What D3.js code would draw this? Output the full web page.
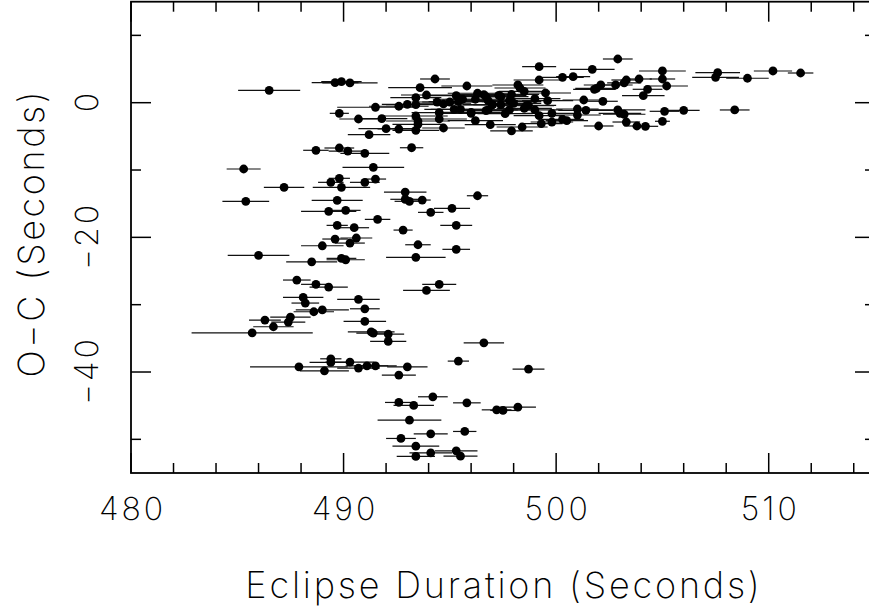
<!DOCTYPE html>
<html>
<head>
<meta charset="utf-8">
<script src="https://cdn.jsdelivr.net/npm/d3@7"></script>
<style>
html,body{margin:0;padding:0;background:#fff;}
svg{display:block;}
text{font-family:Inter,"DejaVu Sans",sans-serif;font-weight:200;fill:#000;}
</style>
</head>
<body>
<svg id="chart" width="869" height="610"></svg>
<script>
// Eclipse duration (s)
const duration = [
486.5,489.6,489.9,490.3,494.3,495.8,493.6,493.9,493.4,495.3,
491.5,492.6,493.0,493.4,494.4,494.7,495.0,489.8,490.7,491.8,
493.4,493.5,494.5,494.5,493.5,492.0,492.6,493.4,494.7,491.2,
496.2,496.9,496.0,488.7,489.8,490.2,491.0,493.2,485.3,491.4,
489.8,489.4,491.0,491.5,489.9,487.2,485.4,489.7,492.9,492.9,
493.1,493.7,496.3,489.3,490.1,495.1,494.1,491.6,489.7,490.5,
495.3,492.8,489.6,490.6,490.3,489.0,493.5,495.3,486.0,488.5,
489.9,490.1,493.4,487.8,488.7,489.3,494.5,493.9,488.1,488.2,
490.7,491.0,489.0,488.6,487.5,487.4,486.3,486.7,491.0,485.7,
491.3,491.4,492.1,492.1,496.6,489.4,489.4,490.3,487.9,489.1,
490.7,491.1,491.5,493.0,492.6,495.4,498.7,494.2,492.6,493.3,
495.8,497.2,497.5,498.2,493.1,495.7,494.1,492.7,493.4,494.1,
495.3,493.4,495.5,502.9,499.2,501.7,505.0,499.2,500.3,500.8,
505.0,503.9,503.3,503.2,502.8,502.1,501.9,501.8,504.3,505.2,
504.1,507.6,507.5,509.0,510.2,511.5,508.4,506.0,505.1,502.9,
503.0,503.2,503.3,505.0,503.8,504.2,502.0,501.3,502.2,501.0,
501.4,501.0,500.5,500.3,499.8,499.3,499.8,499.6,499.5,499.0,
498.4,497.9,497.6,497.4,498.2,498.3,498.5,497.9,497.9,498.5,
498.7,499.0,499.2,496.8,496.7,497.0,496.3,496.6,497.3,495.4,
495.6,496.2,496.8,497.0,497.4,497.8,498.0,498.6,495.2,495.5,
496.0,496.7,497.8
];
// O-C (s)
const oc = [
1.84,2.97,3.12,2.93,3.52,2.48,2.23,1.14,0.74,1.04,
-0.68,-0.53,-0.24,-0.30,0.10,-0.19,0.10,-1.58,-2.42,-2.38,
-1.98,-2.72,-1.49,-2.42,-3.21,-3.86,-3.91,-4.10,-3.76,-4.75,
-2.67,-3.27,-1.58,-7.07,-6.73,-7.18,-7.52,-6.69,-9.85,-9.60,
-11.23,-11.83,-11.83,-11.34,-12.57,-12.57,-14.65,-14.50,-13.27,-14.35,
-14.65,-14.46,-13.82,-16.14,-15.99,-15.69,-16.29,-17.33,-18.22,-18.57,
-18.22,-18.92,-20.25,-20.10,-20.85,-21.25,-21.10,-21.78,-22.67,-23.63,
-23.12,-23.33,-22.97,-26.34,-26.98,-27.38,-26.98,-27.88,-28.92,-29.76,
-29.21,-30.61,-30.76,-31.05,-31.84,-32.59,-32.29,-33.28,-32.48,-34.18,
-34.03,-34.22,-34.37,-35.45,-35.66,-38.04,-38.57,-38.53,-39.23,-39.82,
-39.42,-39.08,-39.08,-39.23,-40.46,-38.38,-39.57,-43.68,-44.52,-44.96,
-44.58,-45.62,-45.71,-45.22,-47.15,-48.83,-49.18,-49.87,-51.01,-52.00,
-51.71,-52.54,-52.50,6.49,5.35,4.96,4.71,3.37,3.77,3.86,
3.52,3.52,3.37,2.93,2.63,2.63,2.14,1.99,1.99,2.48,
1.04,4.46,3.77,3.63,4.71,4.41,-1.08,-1.13,-1.28,-1.08,
-1.58,-1.72,-2.87,-2.76,-3.46,-3.51,-3.46,0.40,0.21,-0.94,
-1.13,-1.83,-2.67,-2.47,-2.87,-3.12,-1.58,0.30,1.44,0.59,
-3.61,-4.20,-1.63,0.89,2.63,2.18,1.69,1.25,0.15,-0.83,
-0.39,-1.08,-1.93,-1.08,0.89,-0.34,1.40,1.19,1.10,0.15,
0.51,0.51,0.30,-0.30,-0.30,0.36,-0.09,-0.45,-0.98,-0.98,
-1.43,-1.19,-1.08
];
// Duration uncertainty (s, half-width)
const durErr = [
1.46,1.1,0.95,1.3,0.7,1.2,1.5,1.2,1.2,1.4,
1.8,1.4,1.2,1.4,1.2,1.3,1.3,0.45,0.9,1.2,
1.5,1.5,1.3,1.3,1.2,1.3,1.0,1.1,1.0,1.0,
1.3,1.2,1.4,0.6,0.7,0.9,1.15,0.55,0.8,1.45,
0.5,0.6,0.7,0.5,1.35,0.95,1.1,1.2,1.0,0.7,
0.7,0.4,0.5,1.3,0.7,0.85,0.6,0.6,0.5,0.7,
0.75,0.45,0.6,0.75,0.7,1.0,0.6,0.65,1.45,1.2,
0.7,0.9,1.4,0.65,0.7,0.9,0.8,1.1,0.95,0.65,
1.0,0.7,1.25,0.95,0.95,0.8,0.75,0.95,1.0,2.85,
1.1,0.8,0.75,0.85,0.95,0.5,1.0,1.15,2.3,1.15,
1.0,1.0,1.0,0.95,0.8,0.5,0.75,0.7,0.65,0.95,
0.65,0.7,0.6,0.85,1.5,0.55,0.8,0.7,1.1,1.0,
1.0,0.9,0.8,0.7,0.8,1.05,1.1,1.2,1.0,0.8,
0.6,0.6,0.7,0.8,0.8,0.8,1.0,1.0,0.7,1.0,
1.0,1.05,1.1,1.0,0.9,0.6,0.7,0.75,0.7,1.3,
1.0,1.0,0.65,0.35,0.6,0.6,0.7,1.0,0.7,1.0,
1.3,1.1,1.0,1.0,1.0,1.0,1.2,1.2,1.2,1.2,
1.2,1.0,1.3,1.3,1.2,1.2,1.2,1.3,1.4,1.3,
1.3,1.3,1.2,1.4,1.4,1.4,1.4,1.4,1.3,1.4,
1.4,1.4,1.4,1.4,1.3,1.3,1.3,1.3,1.4,1.4,
1.4,1.3,1.3
];
const xTickLabels = [480, 490, 500, 510];
const yTickLabels = [-40, -20, 0];
const xMinorTicks = d3.range(480, 515, 2);
const yMinorTicks = [-50, -30, -10, 10];

const svg = d3.select("#chart");
const L = 131, R = 875, T = 1.7, B = 473;
const x = d3.scaleLinear().domain([480, 515]).range([L, R]);
const y = d3.scaleLinear().domain([-55, 15]).range([B, T]);

const data = duration.map((d, i) => ({x: d, y: oc[i], e: durErr[i]}));

// error bars
svg.append("g").selectAll("line").data(data).join("line")
  .attr("x1", d => x(d.x - d.e)).attr("x2", d => x(d.x + d.e))
  .attr("y1", d => y(d.y)).attr("y2", d => y(d.y))
  .attr("stroke", "#111").attr("stroke-width", 1.2);
// points
svg.append("g").selectAll("circle").data(data).join("circle")
  .attr("cx", d => x(d.x)).attr("cy", d => y(d.y)).attr("r", 4.4)
  .attr("fill", "#000");

// frame
svg.append("rect").attr("x", L).attr("y", T).attr("width", R - L).attr("height", B - T)
  .attr("fill", "none").attr("stroke", "#000").attr("stroke-width", 1.8);

const tickG = svg.append("g").attr("stroke", "#000").attr("stroke-width", 1.5);
// x ticks bottom & top
xMinorTicks.forEach(v => {
  const major = xTickLabels.includes(v);
  const len = major ? 20 : 10;
  tickG.append("line").attr("x1", x(v)).attr("x2", x(v)).attr("y1", B).attr("y2", B - len);
  tickG.append("line").attr("x1", x(v)).attr("x2", x(v)).attr("y1", T).attr("y2", T + len);
});
// y ticks left & right
yMinorTicks.concat(yTickLabels).forEach(v => {
  const major = yTickLabels.includes(v);
  const len = major ? 20 : 10;
  tickG.append("line").attr("x1", L).attr("x2", L + len).attr("y1", y(v)).attr("y2", y(v));
  tickG.append("line").attr("x1", R).attr("x2", R - len).attr("y1", y(v)).attr("y2", y(v));
});

// x tick labels
svg.append("g").selectAll("text").data(xTickLabels).join("text")
  .attr("x", d => x(d) + 1.5).attr("y", 520)
  .attr("text-anchor", "middle").attr("font-size", 32).attr("letter-spacing", 3)
  .text(d => String(d).replace("-", "\u2212"));
// y tick labels (rotated)
svg.append("g").selectAll("text").data(yTickLabels).join("text")
  .attr("transform", d => `translate(98,${y(d) - 1.5}) rotate(-90)`)
  .attr("text-anchor", "middle").attr("font-size", 32).attr("letter-spacing", 3)
  .text(d => String(d).replace("-", "\u2212"));

// axis titles
svg.append("text").attr("x", 504).attr("y", 598).attr("text-anchor", "middle")
  .attr("font-size", 36).attr("letter-spacing", 2.8)
  .text("Eclipse Duration (Seconds)");
svg.append("text").attr("transform", "translate(44,233) rotate(-90)")
  .attr("text-anchor", "middle").attr("font-size", 36).attr("letter-spacing", 2.6)
  .text("O\u2212C (Seconds)");
</script>
</body>
</html>
